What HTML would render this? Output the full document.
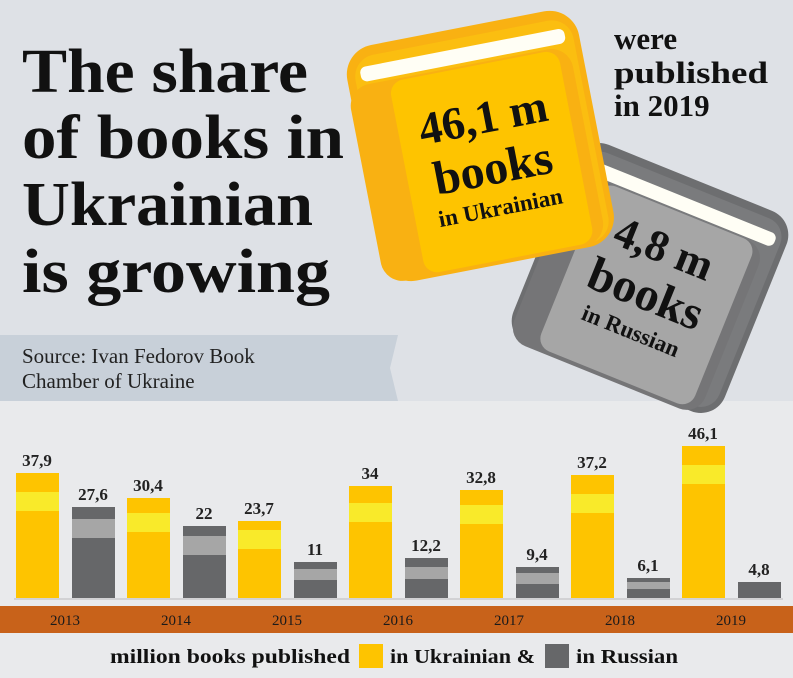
<!DOCTYPE html>
<html><head><meta charset="utf-8"><style>
html,body{margin:0;padding:0;}
body{width:793px;height:678px;overflow:hidden;background:#e9eaec;}
svg{display:block;font-family:"Liberation Serif",serif;}
</style></head><body>
<svg width="793" height="678" viewBox="0 0 793 678" xmlns="http://www.w3.org/2000/svg">
<rect x="0" y="0" width="793" height="401" fill="#dee1e6"/>
<rect x="0" y="401" width="793" height="277" fill="#e9eaec"/>
<polygon points="0,335 398,335 390,368 398,401 0,401" fill="#c8d0d9"/>
<g font-weight="bold" fill="#111" font-size="62">
<text x="22" y="92" textLength="286" lengthAdjust="spacingAndGlyphs">The share</text>
<text x="22" y="158" textLength="322" lengthAdjust="spacingAndGlyphs">of books in</text>
<text x="22" y="225" textLength="291" lengthAdjust="spacingAndGlyphs">Ukrainian</text>
<text x="22" y="292" textLength="308" lengthAdjust="spacingAndGlyphs">is growing</text>
</g>
<g fill="#222" font-size="21">
<text x="22" y="363">Source: Ivan Fedorov Book</text>
<text x="22" y="388">Chamber of Ukraine</text>
</g>
<g font-weight="bold" fill="#111" font-size="31">
<text x="614" y="49">were</text>
<text x="614" y="83" textLength="154" lengthAdjust="spacingAndGlyphs">published</text>
<text x="614" y="116">in 2019</text>
</g>
<!-- gray book -->
<g transform="translate(650,278) rotate(22)">
<rect x="-114" y="-108" width="228" height="216" rx="26" fill="#6d6e70"/>
<rect x="-106" y="-100" width="214" height="202" rx="20" fill="#7a7b7d"/>
<rect x="-92" y="-88" width="194" height="14" rx="6" fill="#fffef5"/>
<rect x="-110" y="-72" width="206" height="182" rx="20" fill="#757577"/>
<rect x="-80" y="-72" width="166" height="178" rx="14" fill="#a6a6a6"/>
<g font-weight="bold" fill="#111" text-anchor="middle">
<text x="2" y="-18" font-size="44">4,8 m</text>
<text x="2" y="32" font-size="48">books</text>
<text x="2" y="64" font-size="23">in Russian</text>
</g>
</g>
<!-- yellow book -->
<g transform="translate(480,144) rotate(-11)">
<rect x="-118" y="-118" width="236" height="240" rx="30" fill="#f9b112"/>
<rect x="-110" y="-108" width="222" height="226" rx="22" fill="#fbbe10"/>
<rect x="-104" y="-98" width="208" height="15" rx="6" fill="#fffef5"/>
<rect x="-120" y="-80" width="226" height="200" rx="22" fill="#f9b112"/>
<rect x="-78" y="-78" width="172" height="196" rx="14" fill="#fec400"/>
<g font-weight="bold" fill="#111" text-anchor="middle">
<text x="8" y="-10" font-size="46">46,1 m</text>
<text x="8" y="42" font-size="48">books</text>
<text x="8" y="74" font-size="23">in Ukrainian</text>
</g>
</g>
<!-- bars -->
<g id="bars">
<rect x="16" y="473" width="43" height="125" fill="#fec400"/><rect x="16" y="492" width="43" height="19" fill="#f9ea2a"/>
<rect x="72" y="507" width="43" height="91" fill="#666769"/><rect x="72" y="519" width="43" height="19" fill="#a6a6a6"/>
<rect x="127" y="498" width="43" height="100" fill="#fec400"/><rect x="127" y="513" width="43" height="19" fill="#f9ea2a"/>
<rect x="183" y="526" width="43" height="72" fill="#666769"/><rect x="183" y="536" width="43" height="19" fill="#a6a6a6"/>
<rect x="238" y="521" width="43" height="77" fill="#fec400"/><rect x="238" y="530" width="43" height="19" fill="#f9ea2a"/>
<rect x="294" y="562" width="43" height="36" fill="#666769"/><rect x="294" y="569" width="43" height="11" fill="#a6a6a6"/>
<rect x="349" y="486" width="43" height="112" fill="#fec400"/><rect x="349" y="503" width="43" height="19" fill="#f9ea2a"/>
<rect x="405" y="558" width="43" height="40" fill="#666769"/><rect x="405" y="567" width="43" height="12" fill="#a6a6a6"/>
<rect x="460" y="490" width="43" height="108" fill="#fec400"/><rect x="460" y="505" width="43" height="19" fill="#f9ea2a"/>
<rect x="516" y="567" width="43" height="31" fill="#666769"/><rect x="516" y="573" width="43" height="11" fill="#a6a6a6"/>
<rect x="571" y="475" width="43" height="123" fill="#fec400"/><rect x="571" y="494" width="43" height="19" fill="#f9ea2a"/>
<rect x="627" y="578" width="43" height="20" fill="#666769"/><rect x="627" y="582" width="43" height="7" fill="#a6a6a6"/>
<rect x="682" y="446" width="43" height="152" fill="#fec400"/><rect x="682" y="465" width="43" height="19" fill="#f9ea2a"/>
<rect x="738" y="582" width="43" height="16" fill="#666769"/>
</g>
<line x1="14" y1="599" x2="783" y2="599" stroke="#bbb" stroke-width="1"/>
<g font-weight="bold" fill="#222" font-size="17" text-anchor="middle">
<text x="37" y="466">37,9</text><text x="93" y="500">27,6</text>
<text x="148" y="491">30,4</text><text x="204" y="519">22</text>
<text x="259" y="514">23,7</text><text x="315" y="555">11</text>
<text x="370" y="479">34</text><text x="426" y="551">12,2</text>
<text x="481" y="483">32,8</text><text x="537" y="560">9,4</text>
<text x="592" y="468">37,2</text><text x="648" y="571">6,1</text>
<text x="703" y="439">46,1</text><text x="759" y="575">4,8</text>
</g>
<rect x="0" y="606" width="793" height="27" fill="#c8621a"/>
<g fill="#1a1a1a" font-size="15" text-anchor="middle">
<text x="65" y="625">2013</text><text x="176" y="625">2014</text><text x="287" y="625">2015</text>
<text x="398" y="625">2016</text><text x="509" y="625">2017</text><text x="620" y="625">2018</text><text x="731" y="625">2019</text>
</g>
<g font-weight="bold" fill="#111" font-size="20">
<text x="110" y="663" textLength="240" lengthAdjust="spacingAndGlyphs">million books published</text>
<rect x="359" y="644" width="24" height="24" fill="#fec400"/>
<text x="390" y="663" textLength="145" lengthAdjust="spacingAndGlyphs">in Ukrainian &amp;</text>
<rect x="545" y="644" width="24" height="24" fill="#666769"/>
<text x="576" y="663" textLength="102" lengthAdjust="spacingAndGlyphs">in Russian</text>
</g>
</svg>
</body></html>
